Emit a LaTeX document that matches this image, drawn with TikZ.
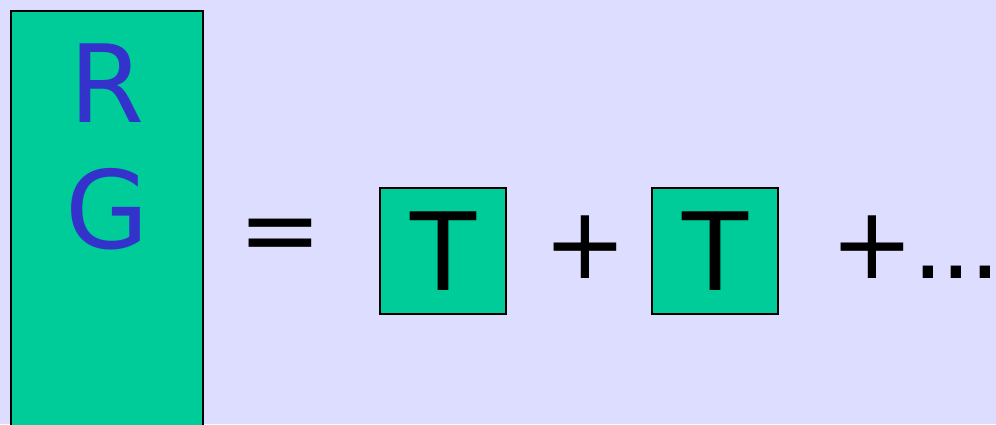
\documentclass[tikz,border=0pt]{standalone}
\usepackage{fontspec}
\setmainfont{DejaVu Sans}
\usetikzlibrary{positioning}
\definecolor{Lavanda}{RGB}{221,221,255}
\definecolor{VerdeMar}{RGB}{0,204,153}
\definecolor{AzulLetra}{RGB}{51,51,204}
\tikzset{
  bigfont/.style={font=\fontsize{108}{120}\selectfont},
  signfont/.style={font=\fontsize{100}{110}\selectfont},
  rgbox/.style={draw=black, line width=2pt, fill=VerdeMar},
  tbox/.style={draw=black, line width=2pt, fill=VerdeMar, minimum size=126pt,
    inner sep=0pt, bigfont, text=black},
  signo/.style={inner sep=0pt, signfont, text=black},
  letra/.style={inner sep=0pt, bigfont, text=AzulLetra, anchor=base},
}
\begin{document}
\begin{tikzpicture}[x=1pt, y=-1pt]
    \useasboundingbox (0,0) rectangle (996,424);
    \fill[Lavanda] (0,0) rectangle (996,424);
    \begin{scope}
      \clip (0,0) rectangle (996,424);
      \draw[rgbox] (11,11) rectangle (203,440);
    \end{scope}
    \node[letra] (r) at (107,122) {R};
    \node[letra] (g) at (107,248) {G};
    \node[signo] (igual) at (280,242) {=};
    \node[tbox] (t1) at (443,251) {T};
    \node[signo] (mas1) at (585,247) {+};
    \node[tbox] (t2) at (715,251) {T};
    \node[signo, anchor=west] (mas2) at (830,247) {+\kern-2pt.\kern-3pt.\kern-3pt.};
  \end{tikzpicture}
\end{document}
